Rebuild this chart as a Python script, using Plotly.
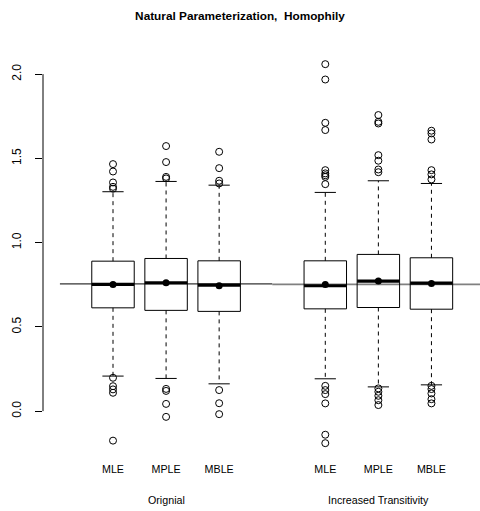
import plotly.graph_objects as go

# ---- data ----
positions = [1, 2, 3, 5, 6, 7]
labels = ["MLE", "MPLE", "MBLE", "MLE", "MPLE", "MBLE"]
q1 = [0.613, 0.598, 0.592, 0.607, 0.615, 0.605]
medians = [0.752, 0.762, 0.748, 0.744, 0.772, 0.760]
q3 = [0.890, 0.906, 0.892, 0.892, 0.930, 0.910]
lower_whisker = [0.208, 0.194, 0.162, 0.192, 0.144, 0.156]
upper_whisker = [1.302, 1.363, 1.341, 1.298, 1.367, 1.351]
means = [0.752, 0.762, 0.744, 0.752, 0.772, 0.758]
outliers = [
    [1.466, 1.422, 1.357, 1.331, 1.320, 0.198, 0.148, 0.129, 0.109, -0.175],
    [1.573, 1.478, 1.390, 1.381, 0.132, 0.120, 0.043, -0.034],
    [1.539, 1.442, 1.367, 1.351, 0.125, 0.047, -0.018],
    [2.059, 1.968, 1.711, 1.668, 1.430, 1.411, 1.400, 1.390, 1.347,
     0.150, 0.125, 0.101, 0.046, -0.140, -0.190],
    [1.757, 1.717, 1.707, 1.519, 1.486, 1.434, 1.418,
     0.135, 0.115, 0.091, 0.065, 0.036],
    [1.664, 1.648, 1.612, 1.430, 1.405, 1.375,
     0.150, 0.131, 0.105, 0.071, 0.046],
]
group_names = ["Orignial", "Increased Transitivity"]
group_centers = [2, 6]
ref_values = [0.755, 0.752]
ref_spans = [(0, 4), (4, 9)]
y_ticks = [0, 0.5, 1.0, 1.5, 2.0]
y_tick_text = ["0.0", "0.5", "1.0", "1.5", "2.0"]
title = "Natural Parameterization,  Homophily"

FONT = "Liberation Sans, Arial, Helvetica, sans-serif"
BW = 0.4   # half box width
SW = 0.2   # half staple width

fig = go.Figure()

# reference lines
for (a, b), v, col, w in zip(ref_spans, ref_values, ["black", "#808080"], [1, 1.6]):
    fig.add_trace(go.Scatter(x=[a, b], y=[v, v], mode="lines",
                             line=dict(color=col, width=w), hoverinfo="skip"))

# boxes
bx, by = [], []
wx, wy = [], []
sx, sy = [], []
mx, my = [], []
for p, a, m, c, lo, hi in zip(positions, q1, medians, q3, lower_whisker, upper_whisker):
    bx += [p - BW, p + BW, p + BW, p - BW, p - BW, None]
    by += [a, a, c, c, a, None]
    wx += [p, p, None, p, p, None]
    wy += [c, hi, None, a, lo, None]
    sx += [p - SW, p + SW, None, p - SW, p + SW, None]
    sy += [hi, hi, None, lo, lo, None]
    mx += [p - BW, p + BW, None]
    my += [m, m, None]

fig.add_trace(go.Scatter(x=wx, y=wy, mode="lines",
                         line=dict(color="black", width=1, dash="4px,4px")))
fig.add_trace(go.Scatter(x=sx, y=sy, mode="lines", line=dict(color="black", width=1)))
fig.add_trace(go.Scatter(x=bx, y=by, mode="lines", line=dict(color="black", width=1)))
fig.add_trace(go.Scatter(x=mx, y=my, mode="lines", line=dict(color="black", width=3.2)))

# outliers
ox, oy = [], []
for p, outs in zip(positions, outliers):
    ox += [p] * len(outs)
    oy += outs
fig.add_trace(go.Scatter(x=ox, y=oy, mode="markers",
                         marker=dict(symbol="circle-open", size=7,
                                     line=dict(color="black", width=1), color="black")))
# means
fig.add_trace(go.Scatter(x=positions, y=means, mode="markers",
                         marker=dict(symbol="circle", size=7, color="black")))

fig.update_layout(
    width=480, height=511,
    margin=dict(l=43, r=0, t=49, b=52),
    paper_bgcolor="white", plot_bgcolor="white",
    showlegend=False,
    font=dict(family=FONT, color="black"),
    title=dict(text="<b>" + title + "</b>", x=0.5, xref="container", xanchor="center",
               y=1 - 16 / 511, yref="container", yanchor="middle",
               font=dict(size=11.8, family=FONT, color="black")),
    xaxis=dict(range=[-0.319, 7.915], tickvals=positions, ticktext=labels,
               showgrid=False, zeroline=False, showline=False, ticks="",
               ticklabelstandoff=2,
               tickfont=dict(size=10.7, family=FONT, color="black")),
    yaxis=dict(range=[-0.284, 2.149], tickvals=y_ticks, ticktext=y_tick_text,
               tickangle=-90, ticks="outside", ticklen=7, tickcolor="black", tickwidth=1,
               showgrid=False, zeroline=False, showline=False,
               ticklabelstandoff=9,
               tickfont=dict(size=12, family=FONT, color="black")),
)

# y axis line spanning only the tick range (R style)
fig.add_shape(type="line", xref="paper", x0=0, x1=0, yref="y",
              y0=min(y_ticks), y1=max(y_ticks), line=dict(color="black", width=1))

for name, c in zip(group_names, group_centers):
    fig.add_annotation(x=c, xref="x", y=-0.1, yref="paper", yanchor="middle",
                       text=name, showarrow=False,
                       font=dict(size=10.7, family=FONT, color="black"))

fig.write_html("out.html")
